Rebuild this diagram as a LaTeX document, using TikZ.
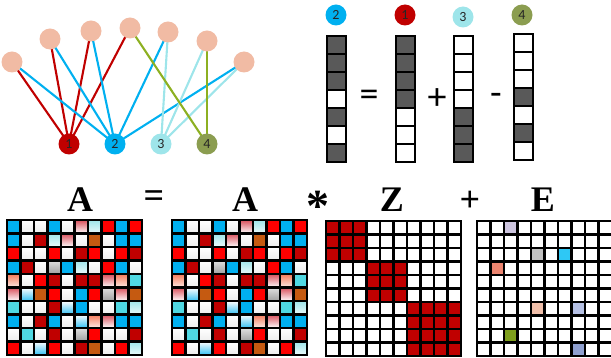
\documentclass[tikz,border=0pt]{standalone}
\usepackage{fontspec}
\setmainfont{Liberation Serif}
\newfontfamily\calib{Carlito}
\usetikzlibrary{backgrounds}

\definecolor{cblue}{HTML}{00B0F0}
\definecolor{cred}{HTML}{FF0000}
\definecolor{cdark}{HTML}{C00000}
\definecolor{cturq}{HTML}{4FD8E2}
\definecolor{corange}{HTML}{C55A11}
\definecolor{clcyan}{HTML}{9EE5EA}
\definecolor{colive}{HTML}{8B9D50}
\definecolor{colivel}{HTML}{8DB021}
\definecolor{cpeach}{HTML}{F1BBA4}
\definecolor{cvec}{HTML}{595959}
\definecolor{cpink}{HTML}{D9505C}
\definecolor{csalmon}{HTML}{F47A5A}
\definecolor{elav}{HTML}{CDC5DF}
\definecolor{egray}{HTML}{C0C0C0}
\definecolor{esky}{HTML}{2EC8F5}
\definecolor{esal}{HTML}{EC8570}
\definecolor{epeach}{HTML}{F0BFAA}
\definecolor{eperi}{HTML}{B5C0E4}
\definecolor{egreen}{HTML}{7F9F1E}
\definecolor{eperid}{HTML}{8FA0D0}

\begin{document}
\begin{tikzpicture}[x=1pt,y=-1pt,
  topnode/.style={circle,fill=cpeach,minimum size=21pt,inner sep=0pt},
  botnode/.style={circle,minimum size=21pt,inner sep=0pt,font=\calib\fontsize{14}{14}\selectfont,text=black!85},
  edge/.style={line width=2.1pt},
  vcell/.style={rectangle,draw=black,line width=1.8pt,minimum width=19pt,minimum height=18pt,inner sep=0pt},
  mcell/.style={rectangle,draw=black,line width=2.3pt,minimum size=13.5pt,inner sep=0pt},
  big/.style={font=\bfseries\fontsize{36}{36}\selectfont,inner sep=0pt},
  op/.style={font=\calib\fontsize{38}{38}\selectfont,inner sep=0pt},
  % cell fills of the data matrix
  c-b/.style={fill=cblue},
  c-r/.style={fill=cred},
  c-d/.style={fill=cdark},
  c-c/.style={fill=cturq},
  c-o/.style={fill=corange},
  c-w/.style={top color=white,bottom color=gray!14},
  c-gr/.style={top color=cpink,bottom color=white},
  c-gs/.style={top color=csalmon,bottom color=white!85!csalmon},
  c-gc/.style={top color=clcyan,bottom color=white!80!clcyan},
  c-gb/.style={top color=white,bottom color=cblue!80},
  c-gg/.style={top color=gray!25,bottom color=gray!75},
]
\useasboundingbox (0,0) rectangle (611,358);
\clip (0,0) rectangle (611,358);

% ---------- bipartite graph ----------
\foreach \n/\x/\y in {1/12/62,2/50/39,3/91/31,4/130/28,5/168/32,6/207/41,7/244/62}
  \node[topnode] (t\n) at (\x,\y) {};
\node[botnode,fill=cdark] (b1) at (69,144) {1};
\node[botnode,fill=cblue] (b2) at (115,144) {2};
\node[botnode,fill=clcyan] (b3) at (161,144) {3};
\node[botnode,fill=colive] (b4) at (207,144) {4};

\begin{pgfonlayer}{background}
  \foreach \t in {1,2,3,4} \draw[edge,cdark] (b1.center) -- (t\t.center);
  \foreach \t in {1,2,3,5,7} \draw[edge,cblue] (b2.center) -- (t\t.center);
  \foreach \t in {5,6,7} \draw[edge,clcyan] (b3.center) -- (t\t.center);
  \foreach \t in {4,6} \draw[edge,colivel] (b4.center) -- (t\t.center);
\end{pgfonlayer}

% ---------- column vectors ----------
\node[botnode,fill=cblue] (h2) at (336,15) {2};
\node[botnode,fill=cdark] (h1) at (405,15) {1};
\node[botnode,fill=clcyan] (h3) at (463,17) {3};
\node[botnode,fill=colive] (h4) at (522,15) {4};

\foreach \v/\x/\y/\pat in {2/336.5/36/{1,1,1,0,1,0,1},
                           1/405.5/36/{1,1,1,1,0,0,0},
                           3/463.5/36/{0,0,0,0,1,1,1},
                           4/523.5/34/{0,0,0,1,0,1,0}}
  \foreach \f [count=\k] in \pat {
    \ifnum\f=1 \def\vf{cvec}\else\def\vf{white}\fi
    \node[vcell,fill=\vf] (v\v-\k) at (\x,{\y+18*(\k-0.5)}) {};
  }

\node[op] (eq1) at (369,98) {=};
\node[op] (pl1) at (437,99) {+};
\node[op] (mi1) at (496,99) {-};

% ---------- matrix equation ----------
\node[big,anchor=base] (lA1) at (80,212) {A};
\node[big] (leq) at (154,199) {=};
\node[big,anchor=base] (lA2) at (245,212) {A};
\node[big,anchor=base,font=\bfseries\fontsize{46}{46}\selectfont] (lst) at (318,222) {*};
\node[big,anchor=base] (lZ) at (392,212) {Z};
\node[big] (lpl) at (470,201) {+};
\node[big,anchor=base] (lE) at (543,212) {E};

% data matrix, drawn twice
\foreach \mx/\m in {7/P,172/Q}
  \foreach \row [count=\i] in {{b,w,w,b,w,gr,gc,r,b,r},
                               {b,w,d,gc,gr,w,o,w,b,b},
                               {r,w,w,r,w,d,r,w,r,d},
                               {b,d,w,gg,b,gc,w,r,b,w},
                               {gs,w,r,d,w,d,d,gr,gs,c},
                               {gr,gb,o,r,w,b,r,gg,gr,o},
                               {c,w,w,d,gb,b,w,w,c,gc},
                               {b,w,d,b,w,gb,gs,gr,b,b},
                               {w,c,w,d,w,gg,r,w,w,d},
                               {r,w,gb,r,w,d,o,w,r,gc}}
    \foreach \c [count=\j] in \row
      \node[mcell,c-\c] (\m-\i-\j) at ({\mx+13.5*(\j-0.5)},{220+13.5*(\i-0.5)}) {};

% membership matrix Z
\foreach \i in {1,...,10}
  \foreach \j in {1,...,10} {
    \pgfmathtruncatemacro{\inblk}{(\i<4 && \j<4) || (\i>3 && \i<7 && \j>3 && \j<7) || (\i>6 && \j>6)}
    \ifnum\inblk=1 \def\zf{cdark}\else\def\zf{white}\fi
    \node[mcell,fill=\zf] (Z-\i-\j) at ({326+13.5*(\j-0.5)},{221+13.5*(\i-0.5)}) {};
  }

% noise matrix E
\foreach \i in {1,...,10}
  \foreach \j in {1,...,10}
    \node[mcell,fill=white] (E-\i-\j) at ({477+13.5*(\j-0.5)},{221+13.5*(\i-0.5)}) {};
\foreach \i/\j/\col in {1/3/elav,3/5/egray,3/7/esky,4/2/esal,7/5/epeach,7/8/eperi,9/3/egreen,10/8/eperid}
  \node[mcell,fill=\col] (En-\i-\j) at ({477+13.5*(\j-0.5)},{221+13.5*(\i-0.5)}) {};
\end{tikzpicture}
\end{document}
